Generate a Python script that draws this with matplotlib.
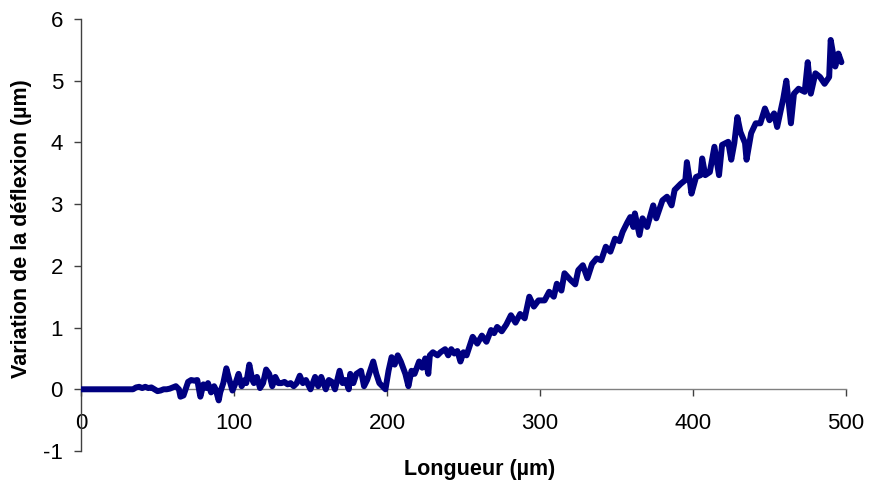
import matplotlib
matplotlib.use("Agg")
import matplotlib.pyplot as plt

plt.rcParams['font.family'] = ['Liberation Sans', 'DejaVu Sans']
plt.rcParams['axes.unicode_minus'] = False

longueur = [0, 10, 20, 30, 34, 36, 38, 40, 42, 44, 46, 48, 50, 52, 54, 56, 58, 60, 62, 64,
            65, 67, 70, 72, 74, 76, 78, 80, 82, 83, 85, 87, 88, 90, 91, 93, 95, 97, 99, 101,
            103, 105, 107, 108, 110, 112, 113, 115, 117, 119, 121, 123, 125, 127, 129, 131, 133, 135, 137, 139,
            141, 143, 145, 147, 150, 153, 155, 157, 160, 162, 164, 166, 169, 171, 173, 175, 176, 178, 180, 183,
            185, 187, 189, 191, 193, 195, 197, 199, 201, 203, 205, 207, 209, 212, 214, 216, 218, 221, 223, 225,
            227, 228, 230, 233, 235, 238, 240, 242, 244, 246, 248, 250, 252, 254, 256, 259, 262, 265, 268, 270,
            272, 275, 278, 281, 284, 287, 290, 293, 296, 299, 303, 306, 309, 311, 314, 316, 320, 323, 325, 328,
            331, 334, 337, 340, 343, 346, 349, 352, 354, 357, 359, 361, 362, 365, 367, 370, 374, 376, 380, 383,
            386, 388, 392, 395, 396, 398, 399, 402, 405, 406, 408, 411, 414, 417, 419, 423, 425, 427, 429, 431,
            434, 435, 438, 441, 444, 447, 450, 453, 455, 459, 461, 464, 466, 469, 473, 475, 477, 480, 483, 486,
            489, 490, 493, 495, 497]

deflexion = [0, 0, 0, 0, 0, 0.03, 0.04, 0.02, 0.04, 0.02, 0.03, 0.0, -0.03, -0.02, 0.0, 0.0, 0.01, 0.03, 0.05, 0.0,
             -0.12, -0.1, 0.12, 0.15, 0.14, 0.15, -0.12, 0.08, 0.02, 0.1, -0.05, 0.05, 0.0, -0.18, -0.05, 0.1, 0.34, 0.15, -0.02, 0.1,
             0.25, 0.05, 0.15, 0.1, 0.4, 0.15, 0.1, 0.2, 0.02, 0.1, 0.32, 0.25, 0.05, 0.2, 0.1, 0.1, 0.12, 0.08, 0.1, 0.05,
             0.1, 0.22, 0.1, 0.15, 0.0, 0.2, 0.05, 0.2, 0.0, 0.15, 0.12, 0.0, 0.3, 0.1, 0.15, 0.0, 0.25, 0.1, 0.25, 0.3,
             0.05, 0.15, 0.3, 0.45, 0.25, 0.1, 0.05, 0.0, 0.3, 0.52, 0.4, 0.55, 0.45, 0.25, 0.05, 0.3, 0.25, 0.45, 0.35, 0.5,
             0.25, 0.55, 0.6, 0.55, 0.6, 0.65, 0.55, 0.65, 0.58, 0.62, 0.45, 0.6, 0.55, 0.7, 0.85, 0.74, 0.87, 0.77, 0.96, 0.91,
             1.01, 0.94, 1.05, 1.2, 1.08, 1.22, 1.15, 1.5, 1.34, 1.44, 1.44, 1.58, 1.5, 1.71, 1.6, 1.88, 1.77, 1.7, 1.93, 2.01,
             1.8, 2.03, 2.12, 2.09, 2.31, 2.23, 2.44, 2.4, 2.55, 2.7, 2.79, 2.63, 2.85, 2.5, 2.77, 2.63, 2.98, 2.77, 3.06, 3.12,
             2.98, 3.23, 3.33, 3.39, 3.68, 3.36, 3.17, 3.44, 3.47, 3.74, 3.47, 3.52, 3.93, 3.47, 3.96, 4.01, 3.72, 3.99, 4.41, 4.17,
             3.99, 3.72, 4.15, 4.31, 4.31, 4.55, 4.36, 4.47, 4.25, 4.71, 5.0, 4.31, 4.79, 4.87, 4.82, 5.3, 4.79, 5.12, 5.06, 4.95,
             5.06, 5.66, 5.23, 5.44, 5.3]

x_ticks = [0, 100, 200, 300, 400, 500]
y_ticks = [-1, 0, 1, 2, 3, 4, 5, 6]
x_label = "Longueur (µm)"
y_label = "Variation de la déflexion (µm)"

fig = plt.figure(figsize=(8.8, 4.8), dpi=100)
ax = fig.add_axes([81 / 880, 1 - 451 / 480, (846 - 81) / 880, (451 - 19) / 480])

ax.plot(longueur, deflexion, color='#000080', linewidth=4.3, solid_joinstyle='round',
        solid_capstyle='round', zorder=3)

ax.set_xlim(0, 500)
ax.set_ylim(-1, 6)
ax.set_xticks(x_ticks)
ax.set_yticks(y_ticks)

for s in ('top', 'right'):
    ax.spines[s].set_visible(False)
ax.spines['bottom'].set_position(('data', 0))
ax.spines['bottom'].set_color('#808080')
ax.spines['left'].set_color('#404040')
ax.spines['bottom'].set_linewidth(1.0)
ax.spines['left'].set_linewidth(1.0)

ax.tick_params(axis='x', direction='out', length=5, width=1, color='#404040',
               labelsize=16, pad=12, labelcolor='black')
ax.tick_params(axis='y', direction='out', length=5, width=1, color='#404040',
               labelsize=16, pad=8, labelcolor='black')

fig.text(480 / 880, 1 - 469 / 480, x_label, ha='center', va='center',
         fontsize=15.5, fontweight='bold')
fig.text(22 / 880, 1 - 229 / 480, y_label, ha='center', va='center',
         rotation=90, fontsize=15.5, fontweight='bold')

fig.savefig('out.png', dpi=100)
